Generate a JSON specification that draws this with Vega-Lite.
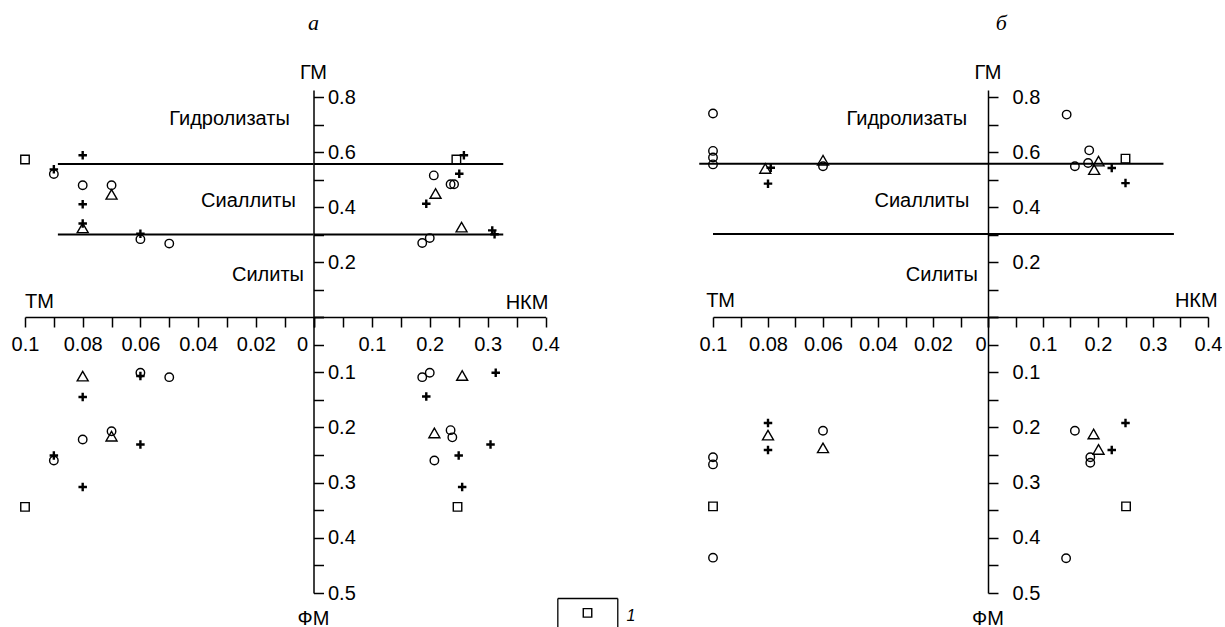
{
"$schema": "https://vega.github.io/schema/vega-lite/v6.json",
"background": "white",
"padding": {"left": 11, "top": 12, "right": 0, "bottom": 0},
"config": {
  "font": "Liberation Sans",
  "view": {"stroke": null},
  "concat": {"spacing": 0},
  "axis": {"domainColor": "black", "tickColor": "black", "labelColor": "black", "domainWidth": 1.5, "tickWidth": 1.5, "tickSize": 10, "labelFont": "Liberation Sans", "labelFontSize": 20, "grid": false, "labelFlush": false, "labelOverlap": false, "labelBound": false},
  "text": {"font": "Liberation Sans", "fontSize": 20, "color": "black"}
},
"datasets": {
  "pts": [
    {"p":"a","q":"UL","x":0.1,"y":0.573,"s":"s"},
    {"p":"a","q":"UL","x":0.09,"y":0.52,"s":"c"},
    {"p":"a","q":"UL","x":0.09,"y":0.537,"s":"p"},
    {"p":"a","q":"UL","x":0.08,"y":0.588,"s":"p"},
    {"p":"a","q":"UL","x":0.08,"y":0.479,"s":"c"},
    {"p":"a","q":"UL","x":0.07,"y":0.479,"s":"c"},
    {"p":"a","q":"UL","x":0.07,"y":0.446,"s":"t"},
    {"p":"a","q":"UL","x":0.08,"y":0.41,"s":"p"},
    {"p":"a","q":"UL","x":0.08,"y":0.34,"s":"p"},
    {"p":"a","q":"UL","x":0.08,"y":0.324,"s":"t"},
    {"p":"a","q":"UL","x":0.06,"y":0.283,"s":"c"},
    {"p":"a","q":"UL","x":0.06,"y":0.303,"s":"p"},
    {"p":"a","q":"UL","x":0.05,"y":0.267,"s":"c"},
    {"p":"a","q":"UR","x":0.246,"y":0.573,"s":"s"},
    {"p":"a","q":"UR","x":0.259,"y":0.588,"s":"p"},
    {"p":"a","q":"UR","x":0.207,"y":0.515,"s":"c"},
    {"p":"a","q":"UR","x":0.251,"y":0.521,"s":"p"},
    {"p":"a","q":"UR","x":0.236,"y":0.483,"s":"c"},
    {"p":"a","q":"UR","x":0.242,"y":0.483,"s":"c"},
    {"p":"a","q":"UR","x":0.21,"y":0.449,"s":"t"},
    {"p":"a","q":"UR","x":0.194,"y":0.412,"s":"p"},
    {"p":"a","q":"UR","x":0.255,"y":0.327,"s":"t"},
    {"p":"a","q":"UR","x":0.308,"y":0.315,"s":"p"},
    {"p":"a","q":"UR","x":0.312,"y":0.301,"s":"p"},
    {"p":"a","q":"UR","x":0.187,"y":0.269,"s":"c"},
    {"p":"a","q":"UR","x":0.2,"y":0.287,"s":"c"},
    {"p":"a","q":"LL","x":0.08,"y":0.107,"s":"t"},
    {"p":"a","q":"LL","x":0.06,"y":0.101,"s":"c"},
    {"p":"a","q":"LL","x":0.06,"y":0.107,"s":"p"},
    {"p":"a","q":"LL","x":0.05,"y":0.109,"s":"c"},
    {"p":"a","q":"LL","x":0.08,"y":0.145,"s":"p"},
    {"p":"a","q":"LL","x":0.08,"y":0.222,"s":"c"},
    {"p":"a","q":"LL","x":0.07,"y":0.207,"s":"c"},
    {"p":"a","q":"LL","x":0.07,"y":0.216,"s":"t"},
    {"p":"a","q":"LL","x":0.06,"y":0.231,"s":"p"},
    {"p":"a","q":"LL","x":0.09,"y":0.26,"s":"c"},
    {"p":"a","q":"LL","x":0.09,"y":0.251,"s":"p"},
    {"p":"a","q":"LL","x":0.08,"y":0.308,"s":"p"},
    {"p":"a","q":"LL","x":0.1,"y":0.344,"s":"s"},
    {"p":"a","q":"LR","x":0.187,"y":0.109,"s":"c"},
    {"p":"a","q":"LR","x":0.2,"y":0.101,"s":"c"},
    {"p":"a","q":"LR","x":0.256,"y":0.106,"s":"t"},
    {"p":"a","q":"LR","x":0.314,"y":0.101,"s":"p"},
    {"p":"a","q":"LR","x":0.194,"y":0.144,"s":"p"},
    {"p":"a","q":"LR","x":0.208,"y":0.21,"s":"t"},
    {"p":"a","q":"LR","x":0.236,"y":0.205,"s":"c"},
    {"p":"a","q":"LR","x":0.239,"y":0.218,"s":"c"},
    {"p":"a","q":"LR","x":0.305,"y":0.231,"s":"p"},
    {"p":"a","q":"LR","x":0.208,"y":0.26,"s":"c"},
    {"p":"a","q":"LR","x":0.25,"y":0.251,"s":"p"},
    {"p":"a","q":"LR","x":0.256,"y":0.308,"s":"p"},
    {"p":"a","q":"LR","x":0.248,"y":0.344,"s":"s"},
    {"p":"a","q":"LR","x":0.4726,"y":0.536,"s":"s"},
    {"p":"b","q":"UL","x":0.1,"y":0.74,"s":"c"},
    {"p":"b","q":"UL","x":0.1,"y":0.604,"s":"c"},
    {"p":"b","q":"UL","x":0.1,"y":0.58,"s":"c"},
    {"p":"b","q":"UL","x":0.1,"y":0.555,"s":"c"},
    {"p":"b","q":"UL","x":0.081,"y":0.54,"s":"t"},
    {"p":"b","q":"UL","x":0.079,"y":0.543,"s":"p"},
    {"p":"b","q":"UL","x":0.08,"y":0.485,"s":"p"},
    {"p":"b","q":"UL","x":0.06,"y":0.57,"s":"t"},
    {"p":"b","q":"UL","x":0.06,"y":0.548,"s":"c"},
    {"p":"b","q":"UR","x":0.143,"y":0.736,"s":"c"},
    {"p":"b","q":"UR","x":0.184,"y":0.606,"s":"c"},
    {"p":"b","q":"UR","x":0.158,"y":0.548,"s":"c"},
    {"p":"b","q":"UR","x":0.182,"y":0.56,"s":"c"},
    {"p":"b","q":"UR","x":0.201,"y":0.567,"s":"t"},
    {"p":"b","q":"UR","x":0.193,"y":0.536,"s":"t"},
    {"p":"b","q":"UR","x":0.225,"y":0.542,"s":"p"},
    {"p":"b","q":"UR","x":0.25,"y":0.576,"s":"s"},
    {"p":"b","q":"UR","x":0.25,"y":0.487,"s":"p"},
    {"p":"b","q":"LL","x":0.08,"y":0.192,"s":"p"},
    {"p":"b","q":"LL","x":0.08,"y":0.214,"s":"t"},
    {"p":"b","q":"LL","x":0.08,"y":0.241,"s":"p"},
    {"p":"b","q":"LL","x":0.06,"y":0.206,"s":"c"},
    {"p":"b","q":"LL","x":0.06,"y":0.237,"s":"t"},
    {"p":"b","q":"LL","x":0.1,"y":0.254,"s":"c"},
    {"p":"b","q":"LL","x":0.1,"y":0.267,"s":"c"},
    {"p":"b","q":"LL","x":0.1,"y":0.343,"s":"s"},
    {"p":"b","q":"LL","x":0.1,"y":0.436,"s":"c"},
    {"p":"b","q":"LR","x":0.158,"y":0.206,"s":"c"},
    {"p":"b","q":"LR","x":0.192,"y":0.212,"s":"t"},
    {"p":"b","q":"LR","x":0.25,"y":0.192,"s":"p"},
    {"p":"b","q":"LR","x":0.201,"y":0.24,"s":"t"},
    {"p":"b","q":"LR","x":0.225,"y":0.241,"s":"p"},
    {"p":"b","q":"LR","x":0.186,"y":0.254,"s":"c"},
    {"p":"b","q":"LR","x":0.186,"y":0.264,"s":"c"},
    {"p":"b","q":"LR","x":0.251,"y":0.343,"s":"s"},
    {"p":"b","q":"LR","x":0.142,"y":0.437,"s":"c"}
  ],
  "lines": [
    {"p":"a","q":"UL","x":0.0886,"x2":0,"y":0.556},
    {"p":"a","q":"UL","x":0.0886,"x2":0,"y":0.3},
    {"p":"a","q":"UR","x":0,"x2":0.327,"y":0.556},
    {"p":"a","q":"UR","x":0,"x2":0.327,"y":0.3},
    {"p":"b","q":"UL","x":0.105,"x2":0,"y":0.557},
    {"p":"b","q":"UL","x":0.1,"x2":0,"y":0.302},
    {"p":"b","q":"UR","x":0,"x2":0.319,"y":0.557},
    {"p":"b","q":"UR","x":0,"x2":0.338,"y":0.302}
  ],
  "box": [
    {"x":0.4213,"x2":0.4213,"y":0.51,"y2":0.562},
    {"x":0.4213,"x2":0.5249,"y":0.51,"y2":0.51},
    {"x":0.5249,"x2":0.5249,"y":0.51,"y2":0.562}
  ],
  "txt": [
    {"p":"a","q":"UL","k":"r","x":0.0082,"y":0.697,"t":"Гидролизаты"},
    {"p":"a","q":"UL","k":"r","x":0.0061,"y":0.4,"t":"Сиаллиты"},
    {"p":"a","q":"UL","k":"r","x":0.0033,"y":0.13,"t":"Силиты"},
    {"p":"a","q":"UL","k":"l","x":0.1,"y":0.0316,"t":"ТМ"},
    {"p":"a","q":"UL","k":"c","x":0,"y":0.867,"t":"ГМ"},
    {"p":"a","q":"UL","k":"let","x":0,"y":1.0425,"t":"а"},
    {"p":"a","q":"UR","k":"r","x":0.405,"y":0.0306,"t":"НКМ"},
    {"p":"a","q":"LL","k":"c","x":0,"y":0.5585,"t":"ФМ"},
    {"p":"a","q":"LR","k":"leg","x":0.54,"y":0.5507,"t":"1"},
    {"p":"b","q":"UL","k":"r","x":0.0076,"y":0.7,"t":"Гидролизаты"},
    {"p":"b","q":"UL","k":"r","x":0.0068,"y":0.4,"t":"Сиаллиты"},
    {"p":"b","q":"UL","k":"r","x":0.0037,"y":0.13,"t":"Силиты"},
    {"p":"b","q":"UL","k":"l","x":0.1025,"y":0.035,"t":"ТМ"},
    {"p":"b","q":"UL","k":"c","x":0,"y":0.867,"t":"ГМ"},
    {"p":"b","q":"UR","k":"let","x":0.024,"y":1.0425,"t":"б"},
    {"p":"b","q":"UR","k":"r","x":0.4176,"y":0.035,"t":"НКМ"},
    {"p":"b","q":"LL","k":"c","x":0,"y":0.5585,"t":"ФМ"}
  ]
},
"columns": 5,
"spacing": 0,
"bounds": "flush",
"align": "each",
"concat": [
   {"width": 288.5, "height": 227,
    "encoding": {
     "x": {"field":"x","type":"quantitative","scale":{"domain":[0,0.1],"reverse":true,"nice":false,"zero":false},"axis":{"orient":"bottom","title":null,"values":[0,0.01,0.02,0.03,0.04,0.05,0.06,0.07,0.08,0.09,0.1],"labelExpr":"round(datum.value*100)%2==0 ? format(datum.value,'~g') : ''","labelPadding":7,"labelAlign":{"condition":{"test":"datum.value==0","value":"right"},"value":"center"},"labelOffset":{"condition":{"test":"datum.value==0","value":-6},"value":0}}},
     "y": {"field":"y","type":"quantitative","scale":{"domain":[0,0.8255],"nice":false,"zero":false},"axis":{"orient":"right","title":null,"values":[0,0.1,0.2,0.3,0.4,0.5,0.6,0.7,0.8],"labelExpr":"datum.value>0.01 && round(datum.value*10)%2==0 ? format(datum.value,'.1f') : ''","labelPadding":4,"labelAlign":"left","labelBaseline":"middle"}}
    },
    "layer": [
     {"data":{"name":"lines"},"transform":[{"filter":"datum.p=='a' && datum.q=='UL'"}],"mark":{"type":"rule","color":"black","strokeWidth":2},"encoding":{"x2":{"field":"x2"}}},
     {"data":{"name":"pts"},"transform":[{"filter":"datum.p=='a' && datum.q=='UL'"}],"mark":{"type":"point","filled":false,"color":"black","opacity":1},"encoding":{"shape":{"field":"s","type":"nominal","scale":{"domain":["c","t","s","p"],"range":["circle","triangle-up","square","M-1,0H1M0,-1V1"]},"legend":null},"size":{"condition":{"test":"datum.s=='t'","value":121},"value":72},"strokeWidth":{"condition":{"test":"datum.s=='p'","value":2.4},"value":1.4}}},
     {"data":{"name":"txt"},"transform":[{"filter":"datum.p=='a' && datum.q=='UL' && datum.k=='r'"}],"mark":{"type":"text","align":"right","baseline":"alphabetic","fontSize":20,"color":"black"},"encoding":{"text":{"field":"t","type":"nominal"}}},
     {"data":{"name":"txt"},"transform":[{"filter":"datum.p=='a' && datum.q=='UL' && datum.k=='l'"}],"mark":{"type":"text","align":"left","baseline":"alphabetic","fontSize":20,"color":"black"},"encoding":{"text":{"field":"t","type":"nominal"}}},
     {"data":{"name":"txt"},"transform":[{"filter":"datum.p=='a' && datum.q=='UL' && datum.k=='c'"}],"mark":{"type":"text","align":"center","baseline":"alphabetic","fontSize":20,"color":"black"},"encoding":{"text":{"field":"t","type":"nominal"}}},
     {"data":{"name":"txt"},"transform":[{"filter":"datum.p=='a' && datum.q=='UL' && datum.k=='let'"}],"mark":{"type":"text","align":"center","baseline":"alphabetic","font":"Liberation Serif","fontStyle":"italic","fontSize":22,"color":"black"},"encoding":{"text":{"field":"t","type":"nominal"}}}
    ]
   },
   {"width": 231.5, "height": 227,
    "encoding": {
     "x": {"field":"x","type":"quantitative","scale":{"domain":[0,0.4],"nice":false,"zero":false},"axis":{"orient":"bottom","title":null,"values":[0,0.05,0.1,0.15,0.2,0.25,0.3,0.35,0.4],"labelExpr":"datum.value>0.01 && round(datum.value*100)%10==0 ? format(datum.value,'.1f') : ''","labelPadding":7}},
     "y": {"field":"y","type":"quantitative","scale":{"domain":[0,0.8255],"nice":false,"zero":false},"axis":null}
    },
    "layer": [
     {"data":{"name":"lines"},"transform":[{"filter":"datum.p=='a' && datum.q=='UR'"}],"mark":{"type":"rule","color":"black","strokeWidth":2},"encoding":{"x2":{"field":"x2"}}},
     {"data":{"name":"pts"},"transform":[{"filter":"datum.p=='a' && datum.q=='UR'"}],"mark":{"type":"point","filled":false,"color":"black","opacity":1},"encoding":{"shape":{"field":"s","type":"nominal","scale":{"domain":["c","t","s","p"],"range":["circle","triangle-up","square","M-1,0H1M0,-1V1"]},"legend":null},"size":{"condition":{"test":"datum.s=='t'","value":121},"value":72},"strokeWidth":{"condition":{"test":"datum.s=='p'","value":2.4},"value":1.4}}},
     {"data":{"name":"txt"},"transform":[{"filter":"datum.p=='a' && datum.q=='UR' && datum.k=='r'"}],"mark":{"type":"text","align":"right","baseline":"alphabetic","fontSize":20,"color":"black"},"encoding":{"text":{"field":"t","type":"nominal"}}}
    ]
   },
   {"width": 167, "height": 10, "data": {"values": [{}]}, "mark": {"type": "point", "opacity": 0, "size": 1}, "encoding": {}},
   {"width": 275, "height": 227,
    "encoding": {
     "x": {"field":"x","type":"quantitative","scale":{"domain":[0,0.1],"reverse":true,"nice":false,"zero":false},"axis":{"orient":"bottom","title":null,"values":[0,0.01,0.02,0.03,0.04,0.05,0.06,0.07,0.08,0.09,0.1],"labelExpr":"round(datum.value*100)%2==0 ? format(datum.value,'~g') : ''","labelPadding":7,"labelAlign":{"condition":{"test":"datum.value==0","value":"right"},"value":"center"},"labelOffset":{"condition":{"test":"datum.value==0","value":-2},"value":0}}},
     "y": {"field":"y","type":"quantitative","scale":{"domain":[0,0.8255],"nice":false,"zero":false},"axis":{"orient":"right","title":null,"values":[0,0.1,0.2,0.3,0.4,0.5,0.6,0.7,0.8],"labelExpr":"datum.value>0.01 && round(datum.value*10)%2==0 ? format(datum.value,'.1f') : ''","labelPadding":14,"labelAlign":"left","labelBaseline":"middle"}}
    },
    "layer": [
     {"data":{"name":"lines"},"transform":[{"filter":"datum.p=='b' && datum.q=='UL'"}],"mark":{"type":"rule","color":"black","strokeWidth":2},"encoding":{"x2":{"field":"x2"}}},
     {"data":{"name":"pts"},"transform":[{"filter":"datum.p=='b' && datum.q=='UL'"}],"mark":{"type":"point","filled":false,"color":"black","opacity":1},"encoding":{"shape":{"field":"s","type":"nominal","scale":{"domain":["c","t","s","p"],"range":["circle","triangle-up","square","M-1,0H1M0,-1V1"]},"legend":null},"size":{"condition":{"test":"datum.s=='t'","value":121},"value":72},"strokeWidth":{"condition":{"test":"datum.s=='p'","value":2.4},"value":1.4}}},
     {"data":{"name":"txt"},"transform":[{"filter":"datum.p=='b' && datum.q=='UL' && datum.k=='r'"}],"mark":{"type":"text","align":"right","baseline":"alphabetic","fontSize":20,"color":"black"},"encoding":{"text":{"field":"t","type":"nominal"}}},
     {"data":{"name":"txt"},"transform":[{"filter":"datum.p=='b' && datum.q=='UL' && datum.k=='l'"}],"mark":{"type":"text","align":"left","baseline":"alphabetic","fontSize":20,"color":"black"},"encoding":{"text":{"field":"t","type":"nominal"}}},
     {"data":{"name":"txt"},"transform":[{"filter":"datum.p=='b' && datum.q=='UL' && datum.k=='c'"}],"mark":{"type":"text","align":"center","baseline":"alphabetic","fontSize":20,"color":"black"},"encoding":{"text":{"field":"t","type":"nominal"}}}
    ]
   },
   {"width": 220, "height": 227,
    "encoding": {
     "x": {"field":"x","type":"quantitative","scale":{"domain":[0,0.4],"nice":false,"zero":false},"axis":{"orient":"bottom","title":null,"values":[0,0.05,0.1,0.15,0.2,0.25,0.3,0.35,0.4],"labelExpr":"datum.value>0.01 && round(datum.value*100)%10==0 ? format(datum.value,'.1f') : ''","labelPadding":7}},
     "y": {"field":"y","type":"quantitative","scale":{"domain":[0,0.8255],"nice":false,"zero":false},"axis":null}
    },
    "layer": [
     {"data":{"name":"lines"},"transform":[{"filter":"datum.p=='b' && datum.q=='UR'"}],"mark":{"type":"rule","color":"black","strokeWidth":2},"encoding":{"x2":{"field":"x2"}}},
     {"data":{"name":"pts"},"transform":[{"filter":"datum.p=='b' && datum.q=='UR'"}],"mark":{"type":"point","filled":false,"color":"black","opacity":1},"encoding":{"shape":{"field":"s","type":"nominal","scale":{"domain":["c","t","s","p"],"range":["circle","triangle-up","square","M-1,0H1M0,-1V1"]},"legend":null},"size":{"condition":{"test":"datum.s=='t'","value":121},"value":72},"strokeWidth":{"condition":{"test":"datum.s=='p'","value":2.4},"value":1.4}}},
     {"data":{"name":"txt"},"transform":[{"filter":"datum.p=='b' && datum.q=='UR' && datum.k=='r'"}],"mark":{"type":"text","align":"right","baseline":"alphabetic","fontSize":20,"color":"black"},"encoding":{"text":{"field":"t","type":"nominal"}}},
     {"data":{"name":"txt"},"transform":[{"filter":"datum.p=='b' && datum.q=='UR' && datum.k=='let'"}],"mark":{"type":"text","align":"center","baseline":"alphabetic","font":"Liberation Serif","fontStyle":"italic","fontSize":22,"color":"black"},"encoding":{"text":{"field":"t","type":"nominal"}}}
    ]
   },
   {"width": 288.5, "height": 276,
    "encoding": {
     "x": {"field":"x","type":"quantitative","scale":{"domain":[0,0.1],"reverse":true,"nice":false,"zero":false},"axis":null},
     "y": {"field":"y","type":"quantitative","scale":{"domain":[0,0.5],"reverse":true,"nice":false,"zero":false},"axis":{"orient":"right","title":null,"values":[0,0.05,0.1,0.15,0.2,0.25,0.3,0.35,0.4,0.45,0.5],"labelExpr":"datum.value>0.01 && round(datum.value*100)%10==0 ? format(datum.value,'.1f') : ''","labelPadding":4,"labelAlign":"left","labelBaseline":"middle"}}
    },
    "layer": [
     {"data":{"name":"pts"},"transform":[{"filter":"datum.p=='a' && datum.q=='LL'"}],"mark":{"type":"point","filled":false,"color":"black","opacity":1},"encoding":{"shape":{"field":"s","type":"nominal","scale":{"domain":["c","t","s","p"],"range":["circle","triangle-up","square","M-1,0H1M0,-1V1"]},"legend":null},"size":{"condition":{"test":"datum.s=='t'","value":121},"value":72},"strokeWidth":{"condition":{"test":"datum.s=='p'","value":2.4},"value":1.4}}},
     {"data":{"name":"txt"},"transform":[{"filter":"datum.p=='a' && datum.q=='LL' && datum.k=='c'"}],"mark":{"type":"text","align":"center","baseline":"alphabetic","fontSize":20,"color":"black"},"encoding":{"text":{"field":"t","type":"nominal"}}}
    ]
   },
   {"width": 231.5, "height": 276,
    "encoding": {
     "x": {"field":"x","type":"quantitative","scale":{"domain":[0,0.4],"nice":false,"zero":false},"axis":null},
     "y": {"field":"y","type":"quantitative","scale":{"domain":[0,0.5],"reverse":true,"nice":false,"zero":false},"axis":null}
    },
    "layer": [
     {"data":{"name":"pts"},"transform":[{"filter":"datum.p=='a' && datum.q=='LR'"}],"mark":{"type":"point","filled":false,"color":"black","opacity":1},"encoding":{"shape":{"field":"s","type":"nominal","scale":{"domain":["c","t","s","p"],"range":["circle","triangle-up","square","M-1,0H1M0,-1V1"]},"legend":null},"size":{"condition":{"test":"datum.s=='t'","value":121},"value":72},"strokeWidth":{"condition":{"test":"datum.s=='p'","value":2.4},"value":1.4}}},
     {"data":{"name":"box"},"mark":{"type":"rule","color":"black","strokeWidth":1.3},"encoding":{"x2":{"field":"x2"},"y2":{"field":"y2"}}},
     {"data":{"name":"txt"},"transform":[{"filter":"datum.p=='a' && datum.q=='LR' && datum.k=='leg'"}],"mark":{"type":"text","align":"left","baseline":"alphabetic","fontStyle":"italic","fontSize":16,"color":"black"},"encoding":{"text":{"field":"t","type":"nominal"}}}
    ]
   },
   {"width": 167, "height": 10, "data": {"values": [{}]}, "mark": {"type": "point", "opacity": 0, "size": 1}, "encoding": {}},
   {"width": 275, "height": 276,
    "encoding": {
     "x": {"field":"x","type":"quantitative","scale":{"domain":[0,0.1],"reverse":true,"nice":false,"zero":false},"axis":null},
     "y": {"field":"y","type":"quantitative","scale":{"domain":[0,0.5],"reverse":true,"nice":false,"zero":false},"axis":{"orient":"right","title":null,"values":[0,0.05,0.1,0.15,0.2,0.25,0.3,0.35,0.4,0.45,0.5],"labelExpr":"datum.value>0.01 && round(datum.value*100)%10==0 ? format(datum.value,'.1f') : ''","labelPadding":14,"labelAlign":"left","labelBaseline":"middle"}}
    },
    "layer": [
     {"data":{"name":"pts"},"transform":[{"filter":"datum.p=='b' && datum.q=='LL'"}],"mark":{"type":"point","filled":false,"color":"black","opacity":1},"encoding":{"shape":{"field":"s","type":"nominal","scale":{"domain":["c","t","s","p"],"range":["circle","triangle-up","square","M-1,0H1M0,-1V1"]},"legend":null},"size":{"condition":{"test":"datum.s=='t'","value":121},"value":72},"strokeWidth":{"condition":{"test":"datum.s=='p'","value":2.4},"value":1.4}}},
     {"data":{"name":"txt"},"transform":[{"filter":"datum.p=='b' && datum.q=='LL' && datum.k=='c'"}],"mark":{"type":"text","align":"center","baseline":"alphabetic","fontSize":20,"color":"black"},"encoding":{"text":{"field":"t","type":"nominal"}}}
    ]
   },
   {"width": 220, "height": 276,
    "encoding": {
     "x": {"field":"x","type":"quantitative","scale":{"domain":[0,0.4],"nice":false,"zero":false},"axis":null},
     "y": {"field":"y","type":"quantitative","scale":{"domain":[0,0.5],"reverse":true,"nice":false,"zero":false},"axis":null}
    },
    "layer": [
     {"data":{"name":"pts"},"transform":[{"filter":"datum.p=='b' && datum.q=='LR'"}],"mark":{"type":"point","filled":false,"color":"black","opacity":1},"encoding":{"shape":{"field":"s","type":"nominal","scale":{"domain":["c","t","s","p"],"range":["circle","triangle-up","square","M-1,0H1M0,-1V1"]},"legend":null},"size":{"condition":{"test":"datum.s=='t'","value":121},"value":72},"strokeWidth":{"condition":{"test":"datum.s=='p'","value":2.4},"value":1.4}}}
    ]
   }
]
}
